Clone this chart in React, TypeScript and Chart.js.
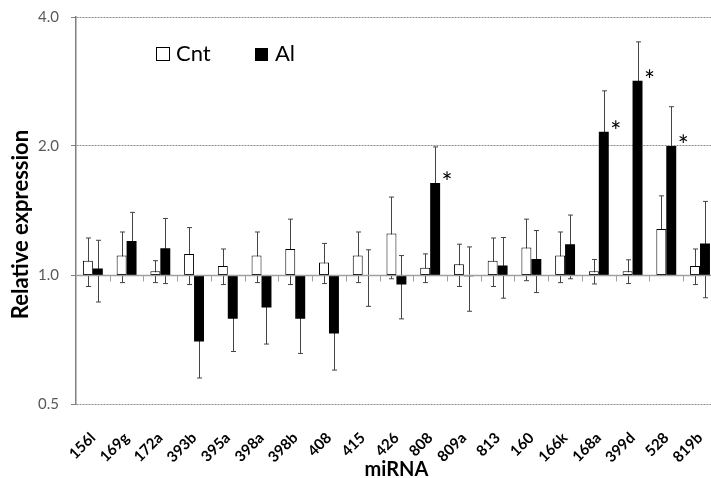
import { useEffect, useRef } from "react";
import { Chart, registerables } from "chart.js";

Chart.register(...registerables);

const categories = ["156l", "169g", "172a", "393b", "395a", "398a", "398b", "408", "415", "426", "808", "809a", "813", "160", "166k", "168a", "399d", "528", "819b"];
const cntMeans = [1.08, 1.11, 1.02, 1.12, 1.05, 1.11, 1.15, 1.07, 1.11, 1.25, 1.04, 1.06, 1.08, 1.16, 1.11, 1.02, 1.02, 1.28, 1.05];
const cntErrors = [0.14, 0.15, 0.06, 0.17, 0.1, 0.15, 0.2, 0.115, 0.15, 0.27, 0.08, 0.12, 0.14, 0.19, 0.15, 0.067, 0.065, 0.25, 0.1];
const alMeans = [1.035, 1.2, 1.155, 0.7, 0.79, 0.84, 0.79, 0.73, 0.995, 0.95, 1.64, 0.993, 1.053, 1.09, 1.18, 2.16, 2.84, 2.0, 1.185];
const alErrors = [0.17, 0.2, 0.2, 0.125, 0.127, 0.15, 0.134, 0.13, 0.15, 0.16, 0.35, 0.17, 0.17, 0.18, 0.2, 0.53, 0.66, 0.47, 0.3];
const alSignificant = [false, false, false, false, false, false, false, false, false, false, true, false, false, false, false, true, true, true, false];
const yTickValues = [0.5, 1, 2, 4];
const baseline = 1;
const seriesNames = ["Cnt", "Al"];
const yTitle = "Relative expression";
const xTitle = "miRNA";

const FONT = "Lato, 'Open Sans', sans-serif";

const overlayPlugin = {
  id: "overlay",
  beforeDatasetsDraw(chart: any) {
    const ctx = chart.ctx;
    const y = chart.scales.y;
    const sets = [
      { means: cntMeans, errs: cntErrors },
      { means: alMeans, errs: alErrors },
    ];
    ctx.save();
    ctx.strokeStyle = "#444444";
    ctx.lineWidth = 1;
    sets.forEach((s, di) => {
      const meta = chart.getDatasetMeta(di);
      meta.data.forEach((bar: any, i: number) => {
        const x = Math.round(bar.x) + 0.5;
        const yTop = y.getPixelForValue(s.means[i] + s.errs[i]);
        const yBot = y.getPixelForValue(Math.max(0.51, s.means[i] - s.errs[i]));
        ctx.beginPath();
        ctx.moveTo(x, yTop);
        ctx.lineTo(x, yBot);
        ctx.moveTo(x - 2.5, yTop);
        ctx.lineTo(x + 2.5, yTop);
        ctx.moveTo(x - 2.5, yBot);
        ctx.lineTo(x + 2.5, yBot);
        ctx.stroke();
      });
    });
    ctx.restore();
  },
  afterDatasetsDraw(chart: any) {
    const ctx = chart.ctx;
    const { left, right, top, bottom } = chart.chartArea;
    const xs = chart.scales.x;
    const ys = chart.scales.y;
    const y1 = Math.round(ys.getPixelForValue(baseline)) + 0.5;
    ctx.save();
    // baseline axis at 1.0
    ctx.strokeStyle = "#a0a0a0";
    ctx.lineWidth = 1.5;
    ctx.beginPath();
    ctx.moveTo(left, y1);
    ctx.lineTo(right, y1);
    ctx.stroke();
    // category tick marks
    ctx.lineWidth = 1;
    ctx.strokeStyle = "#a0a0a0";
    for (let i = 0; i < categories.length - 1; i++) {
      const bx = Math.round((xs.getPixelForValue(i) + xs.getPixelForValue(i + 1)) / 2) + 0.5;
      ctx.beginPath();
      ctx.moveTo(bx, y1);
      ctx.lineTo(bx, y1 + 6);
      ctx.stroke();
    }
    // asterisks
    const meta = chart.getDatasetMeta(1);
    ctx.fillStyle = "#000";
    ctx.font = `26px ${FONT}`;
    ctx.textAlign = "center";
    ctx.textBaseline = "middle";
    meta.data.forEach((bar: any, i: number) => {
      if (!alSignificant[i]) return;
      const bx = bar.x + bar.width / 2 + 7;
      const by = ys.getPixelForValue(alMeans[i]) + 1;
      ctx.fillText("*", bx, by);
    });
    // legend
    const lx = left + 80;
    const ly = top + 30;
    ctx.lineWidth = 1;
    ctx.strokeStyle = "#000";
    ctx.fillStyle = "#fff";
    ctx.fillRect(lx + 0.5, ly + 0.5, 13, 13);
    ctx.strokeRect(lx + 0.5, ly + 0.5, 13, 13);
    ctx.fillStyle = "#000";
    ctx.font = `22px ${FONT}`;
    ctx.textAlign = "left";
    ctx.textBaseline = "alphabetic";
    ctx.fillText(seriesNames[0], lx + 20, ly + 14);
    ctx.fillRect(lx + 99, ly + 1, 13, 13);
    ctx.fillText(seriesNames[1], lx + 119, ly + 14);
    // y axis title
    ctx.save();
    ctx.translate(21, (top + bottom) / 2 + 14);
    ctx.rotate(-Math.PI / 2);
    ctx.font = `bold 22px ${FONT}`;
    ctx.textAlign = "center";
    ctx.textBaseline = "middle";
    ctx.fillText(yTitle, 0, 0);
    ctx.restore();
    ctx.restore();
  },
};

export default function App() {
  const canvasRef = useRef<HTMLCanvasElement | null>(null);

  useEffect(() => {
    if (!canvasRef.current) return;
    const chart = new Chart(canvasRef.current, {
      type: "bar",
      data: {
        labels: categories,
        datasets: [
          {
            label: seriesNames[0],
            data: cntMeans.map((v) => [baseline, v]) as any,
            backgroundColor: "#ffffff",
            borderColor: "#000000",
            borderWidth: 1,
            borderSkipped: false,
          },
          {
            label: seriesNames[1],
            data: alMeans.map((v) => [baseline, v]) as any,
            backgroundColor: "#000000",
            borderColor: "#000000",
            borderWidth: 0,
            borderSkipped: false,
          },
        ],
      },
      options: {
        animation: false,
        responsive: true,
        maintainAspectRatio: false,
        layout: { padding: { top: 17, right: 10, left: 0, bottom: 0 } },
        categoryPercentage: 0.59,
        barPercentage: 1,
        plugins: {
          legend: { display: false },
          tooltip: { enabled: false },
        },
        scales: {
          x: {
            grid: { display: false },
            border: { display: false },
            ticks: {
              color: "#000",
              font: { family: FONT, size: 15, weight: "bold" },
              minRotation: 45,
              maxRotation: 45,
              autoSkip: false,
              padding: 17,
            },
            title: {
              display: true,
              text: xTitle,
              color: "#000",
              font: { family: FONT, size: 20, weight: "bold", lineHeight: 1 },
              padding: { top: 0, bottom: -2 },
            },
            afterFit: (s: any) => {
              s.height = 74;
            },
          },
          y: {
            type: "logarithmic",
            min: 0.5,
            max: 4,
            afterBuildTicks: (s: any) => {
              s.ticks = yTickValues.map((v) => ({ value: v }));
            },
            ticks: {
              color: "#595959",
              font: { family: FONT, size: 15, lineHeight: 0.3 },
              padding: 12,
              callback: (v: any) => Number(v).toFixed(1),
            },
            grid: {
              color: "#8a8a8a",
              lineWidth: 1,
              tickLength: 5,
              tickColor: "#808080",
              tickBorderDash: [],
            },
            border: { display: true, color: "#808080", width: 1.5, dash: [2, 1] },
            title: { display: false },
            afterFit: (s: any) => {
              s.width = 76;
            },
          },
        },
      } as any,
      plugins: [overlayPlugin],
    });
    return () => chart.destroy();
  }, []);

  return (
    <div style={{ position: "fixed", left: 0, top: 0, width: 711, height: 478, overflow: "hidden", background: "#fff" }}>
      <div style={{ width: 730, height: 478, position: "relative" }}>
        <canvas ref={canvasRef} />
      </div>
    </div>
  );
}
